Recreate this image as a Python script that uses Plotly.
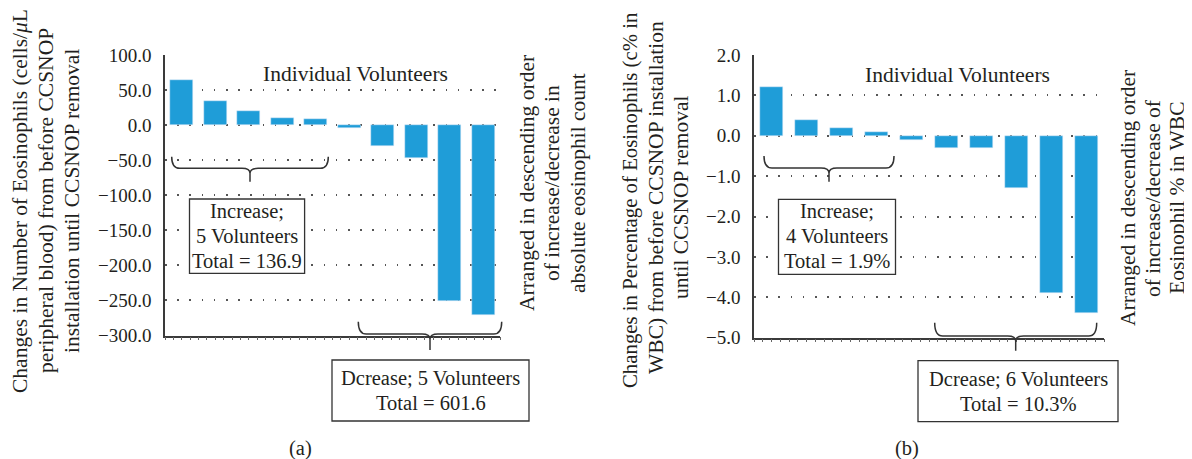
import plotly.graph_objects as go

# ── data ────────────────────────────────────────────────
volunteers = list(range(1, 11))
# (a) change in absolute eosinophil count, cells/uL
count_change = [63.9, 34.0, 20.0, 10.0, 9.0, -3.4, -30.0, -47.5, -250.5, -270.2]
# (b) change in eosinophil % of WBC
pct_change = [1.2, 0.4, 0.2, 0.1, -0.1, -0.3, -0.3, -1.3, -3.9, -4.4]

count_ticks = [100, 50, 0, -50, -100, -150, -200, -250, -300]
pct_ticks = [2, 1, 0, -1, -2, -3, -4, -5]

BAR = "#1f9dd8"
INK = "#231f20"
FONT = "Liberation Serif"
W, H = 1192, 459
OFF = 8  # page body margin


def PX(x):
    return (x - OFF) / W


def PY(y):
    return 1 - (y - OFF) / H


fig = go.Figure()
fig.add_trace(go.Bar(x=volunteers, y=count_change, width=0.68, marker_color=BAR,
                     xaxis="x", yaxis="y", showlegend=False))
fig.add_trace(go.Bar(x=volunteers, y=pct_change, width=0.68, marker_color=BAR,
                     xaxis="x2", yaxis="y2", showlegend=False))

xax = dict(range=[0.5, 10.5], showline=True, linecolor="#3a3a3a", linewidth=1.5,
           showgrid=False, zeroline=False, showticklabels=False, automargin=False,
           tickmode="linear", tick0=0.5, dtick=0.25, ticks="outside",
           ticklen=3, tickwidth=1, tickcolor="#666")
yax = dict(showline=True, linecolor="#3a3a3a", linewidth=1.5, zeroline=False,
           showgrid=True, gridcolor="#555", gridwidth=1.5, griddash="1.5px,10.7px",
           ticks="", tickformat=".1f", ticklabelstandoff=8, automargin=False,
           tickfont=dict(family=FONT, size=19, color=INK))

fig.update_layout(
    width=W, height=H, margin=dict(l=0, r=0, t=0, b=0, autoexpand=False),
    paper_bgcolor="white", plot_bgcolor="white", bargap=0,
    font=dict(family=FONT, size=20, color=INK),
    xaxis=dict(xax, domain=[PX(165), PX(500)], anchor="y"),
    yaxis=dict(yax, domain=[PY(335.5), PY(55)], range=[-300, 100],
               tickvals=count_ticks, anchor="x"),
    xaxis2=dict(xax, domain=[PX(754), PX(1104)], anchor="y2"),
    yaxis2=dict(yax, domain=[PY(337.7), PY(55)], range=[-5, 2],
                tickvals=pct_ticks, anchor="x2"),
)


def brace(x0, x1, xc, ytop, ymid, ybot, r=8, c=5):
    p = (f"M{PX(x0)},{PY(ytop)} Q{PX(x0)},{PY(ymid)} {PX(x0 + r)},{PY(ymid)} "
         f"L{PX(xc - r)},{PY(ymid)} Q{PX(xc)},{PY(ymid)} {PX(xc)},{PY(ymid + c)} "
         f"L{PX(xc)},{PY(ybot)} "
         f"M{PX(xc)},{PY(ymid + c)} Q{PX(xc)},{PY(ymid)} {PX(xc + r)},{PY(ymid)} "
         f"L{PX(x1 - r)},{PY(ymid)} Q{PX(x1)},{PY(ymid)} {PX(x1)},{PY(ytop)}")
    fig.add_shape(type="path", path=p, xref="paper", yref="paper",
                  line=dict(color="#333", width=1.5))


brace(171.7, 328.3, 250, 156.7, 168.3, 181.7)
brace(358.3, 501.7, 430, 321.7, 334, 350)
brace(764, 894, 829, 156, 168, 181.7)
brace(934.7, 1096.7, 1015.7, 322.7, 336, 350.7)


def text(x, y, s, size=20.5, angle=0):
    fig.add_annotation(x=PX(x), y=PY(y), xref="paper", yref="paper", text=s,
                       showarrow=False, textangle=angle, font=dict(size=size),
                       xanchor="center", yanchor="middle")


def box(x0, x1, y0, y1, lines, ys):
    fig.add_shape(type="rect", x0=PX(x0), x1=PX(x1), y0=PY(y0), y1=PY(y1),
                  xref="paper", yref="paper", line=dict(color="#333", width=1.3),
                  fillcolor="white")
    for s, y in zip(lines, ys):
        text((x0 + x1) / 2, y, s)


box(189.5, 304.6, 199, 273.3, ["Increase;", "5 Volunteers", "Total = 136.9"], [211, 236, 261])
box(332, 529, 360, 421, ["Dcrease; 5 Volunteers", "Total = 601.6"], [378, 403])
box(778.5, 895.5, 199.3, 274.3, ["Increase;", "4 Volunteers", "Total = 1.9%"], [211, 236, 261])
box(918, 1118, 360.7, 421.7, ["Dcrease; 6 Volunteers", "Total = 10.3%"], [379, 404])

text(355.6, 74, "Individual Volunteers", size=21.5)
text(957.6, 75, "Individual Volunteers", size=21.5)

# rotated axis titles, one annotation per line: (x centre, y centre, font size, text)
titles = [
    (20, 201, 21.5, "Changes in Number of Eosinophils (cells/<i>μ</i>L"),
    (46, 201, 21.5, "peripheral blood) from before CCSNOP"),
    (72, 201, 21.5, "installation until CCSNOP removal"),
    (527, 183, 21.5, "Arranged in descending order"),
    (552, 183, 21.5, "of increase/decrease in"),
    (578, 183, 21.5, "absolute eosinophil count"),
    (630, 200, 20.8, "Changes in Percentage of Eosinophils (c% in"),
    (656, 198, 21.5, "WBC) from before CCSNOP installation"),
    (681, 198, 21.5, "until CCSNOP removal"),
    (1128, 198, 21.5, "Arranged in descending order"),
    (1153, 198, 21.5, "of increase/decrease of"),
    (1177, 198, 21.5, "Eosinophil % in WBC"),
]
for x, y, size, s in titles:
    text(x, y, s, size=size, angle=-90)

text(300, 448, "(a)")
text(907, 448, "(b)")

fig.write_html("out.html")
